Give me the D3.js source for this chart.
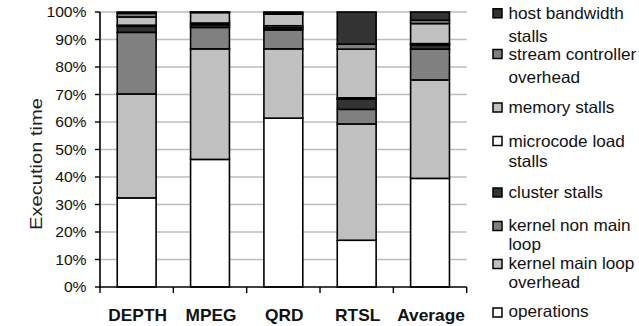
<!DOCTYPE html>
<html>
<head>
<meta charset="utf-8">
<script src="https://cdn.jsdelivr.net/npm/d3@7/dist/d3.min.js"></script>
<style>
html,body{margin:0;padding:0;background:#fff;}
svg{display:block;font-family:"Liberation Sans",Arial,sans-serif;}
</style>
</head>
<body>
<svg id="chart" width="639" height="326" font-family="Liberation Sans, Arial, sans-serif"></svg>
<script>
// ---- data ----
const categories = ["DEPTH", "MPEG", "QRD", "RTSL", "Average"];
const seriesNames = ["operations", "kernel main loop overhead", "kernel non main loop", "cluster stalls",
  "microcode load stalls", "memory stalls", "stream controller overhead", "host bandwidth stalls"];
const operations        = [32.4, 46.4, 61.4, 17.0, 39.5];
const kernelMainLoopOvh = [37.8, 40.2, 25.2, 42.3, 35.8];
const kernelNonMainLoop = [22.4,  7.8,  6.9,  5.3, 11.2];
const clusterStalls     = [ 2.2,  1.0,  0.8,  3.7,  1.5];
const microcodeLoad     = [ 0.4,  0.6,  0.7,  0.5,  0.5];
const memoryStalls      = [ 3.0,  3.8,  4.2, 17.7,  7.3];
const streamController  = [ 1.3,  0.1,  0.3,  1.8,  1.2];
const hostBandwidth     = [ 0.5,  0.1,  0.5, 11.7,  3.0];
const yTicks = [0, 10, 20, 30, 40, 50, 60, 70, 80, 90, 100];
const legendLabels = [
  ["host bandwidth", "stalls"],
  ["stream controller", "overhead"],
  ["memory stalls"],
  ["microcode load", "stalls"],
  ["cluster stalls"],
  ["kernel non main", "loop"],
  ["kernel main loop", "overhead"],
  ["operations"]
];

// ---- styles / layout ----
const fills = ["#ffffff", "#c0c0c0", "#808080", "#333333", "#ffffff", "#c0c0c0", "#808080", "#333333"];
const legendSquareCenters = [13.3, 54, 107.5, 141, 192.5, 226, 264, 312.5];
const legendLineBaselines = [[18.5, 42], [59.5, 83], [112.5], [146.5, 166.5], [197.5], [231, 250], [269, 288], [317]];

const seriesArrays = [operations, kernelMainLoopOvh, kernelNonMainLoop, clusterStalls,
  microcodeLoad, memoryStalls, streamController, hostBandwidth];
const table = categories.map((c, i) => {
  const row = {category: c};
  seriesNames.forEach((s, j) => row[s] = seriesArrays[j][i]);
  return row;
});

const svg = d3.select("#chart");
const mLeft = 100, mRight = 466.7, mTop = 12, mBottom = 287;

const x = d3.scaleBand().domain(categories).range([mLeft, mRight]).paddingInner(0.47).paddingOuter(0.235);
const xb = d3.scaleBand().domain(categories).range([mLeft, mRight]);
const y = d3.scaleLinear().domain([0, 100]).range([mBottom, mTop]);

// gridlines
svg.append("g").selectAll("line").data(yTicks.filter(d => d > 0)).join("line")
  .attr("x1", mLeft).attr("x2", mRight)
  .attr("y1", d => y(d)).attr("y2", d => y(d))
  .attr("stroke", "#bdbdbd").attr("stroke-width", 1.5);

// bars
const stack = d3.stack().keys(seriesNames);
const stacked = stack(table);
svg.append("g").selectAll("g").data(stacked).join("g")
  .attr("fill", (d, i) => fills[i])
  .selectAll("rect").data(d => d).join("rect")
  .attr("x", d => x(d.data.category))
  .attr("width", x.bandwidth())
  .attr("y", d => y(d[1]))
  .attr("height", d => y(d[0]) - y(d[1]))
  .attr("stroke", "#000").attr("stroke-width", 1.6);

// y axis
const yAxis = svg.append("g");
yAxis.append("line").attr("x1", mLeft).attr("x2", mLeft).attr("y1", y(100)).attr("y2", mBottom + 1)
  .attr("stroke", "#000").attr("stroke-width", 1.6);
yAxis.selectAll("line.t").data(yTicks).join("line").attr("class", "t")
  .attr("x1", mLeft - 5).attr("x2", mLeft).attr("y1", d => y(d)).attr("y2", d => y(d))
  .attr("stroke", "#000").attr("stroke-width", 1.4);
yAxis.selectAll("text").data(yTicks).join("text")
  .attr("transform", d => `translate(${mLeft - 13.5},${y(d) + 5}) scale(1.08,1)`)
  .attr("text-anchor", "end").attr("font-size", 14.5).attr("fill", "#111")
  .text(d => d + "%");

// x axis
const xAxis = svg.append("g");
xAxis.append("line").attr("x1", mLeft).attr("x2", mRight).attr("y1", mBottom).attr("y2", mBottom)
  .attr("stroke", "#000").attr("stroke-width", 1.6);
const bounds = categories.map(c => xb(c)).concat([mRight]);
xAxis.selectAll("line.t").data(bounds).join("line").attr("class", "t")
  .attr("x1", d => d).attr("x2", d => d).attr("y1", mBottom).attr("y2", mBottom + 6)
  .attr("stroke", "#000").attr("stroke-width", 1.4);
xAxis.selectAll("text").data(categories).join("text")
  .attr("transform", d => `translate(${xb(d) + xb.bandwidth() / 2 + 1},${321}) scale(1.05,1)`)
  .attr("text-anchor", "middle").attr("font-size", 16.5).attr("font-weight", "bold").attr("fill", "#111")
  .text(d => d);

// y axis title
svg.append("text")
  .attr("transform", `translate(41.5,164) rotate(-90) scale(1.22,1)`)
  .attr("text-anchor", "middle").attr("font-size", 16.5).attr("fill", "#222")
  .text("Execution time");

// legend
const legendFills = fills.slice().reverse();
const lg = svg.append("g");
legendLabels.forEach((lines, i) => {
  const cy = legendSquareCenters[i];
  lg.append("rect").attr("x", 493).attr("y", cy - 4.5).attr("width", 9).attr("height", 9)
    .attr("fill", legendFills[i]).attr("stroke", "#000").attr("stroke-width", 1.5);
  lines.forEach((t, k) => {
    lg.append("text")
      .attr("transform", `translate(508.5,${legendLineBaselines[i][k]}) scale(1.04,1)`)
      .attr("font-size", 16.5).attr("fill", "#111").text(t);
  });
});
</script>
</body>
</html>
